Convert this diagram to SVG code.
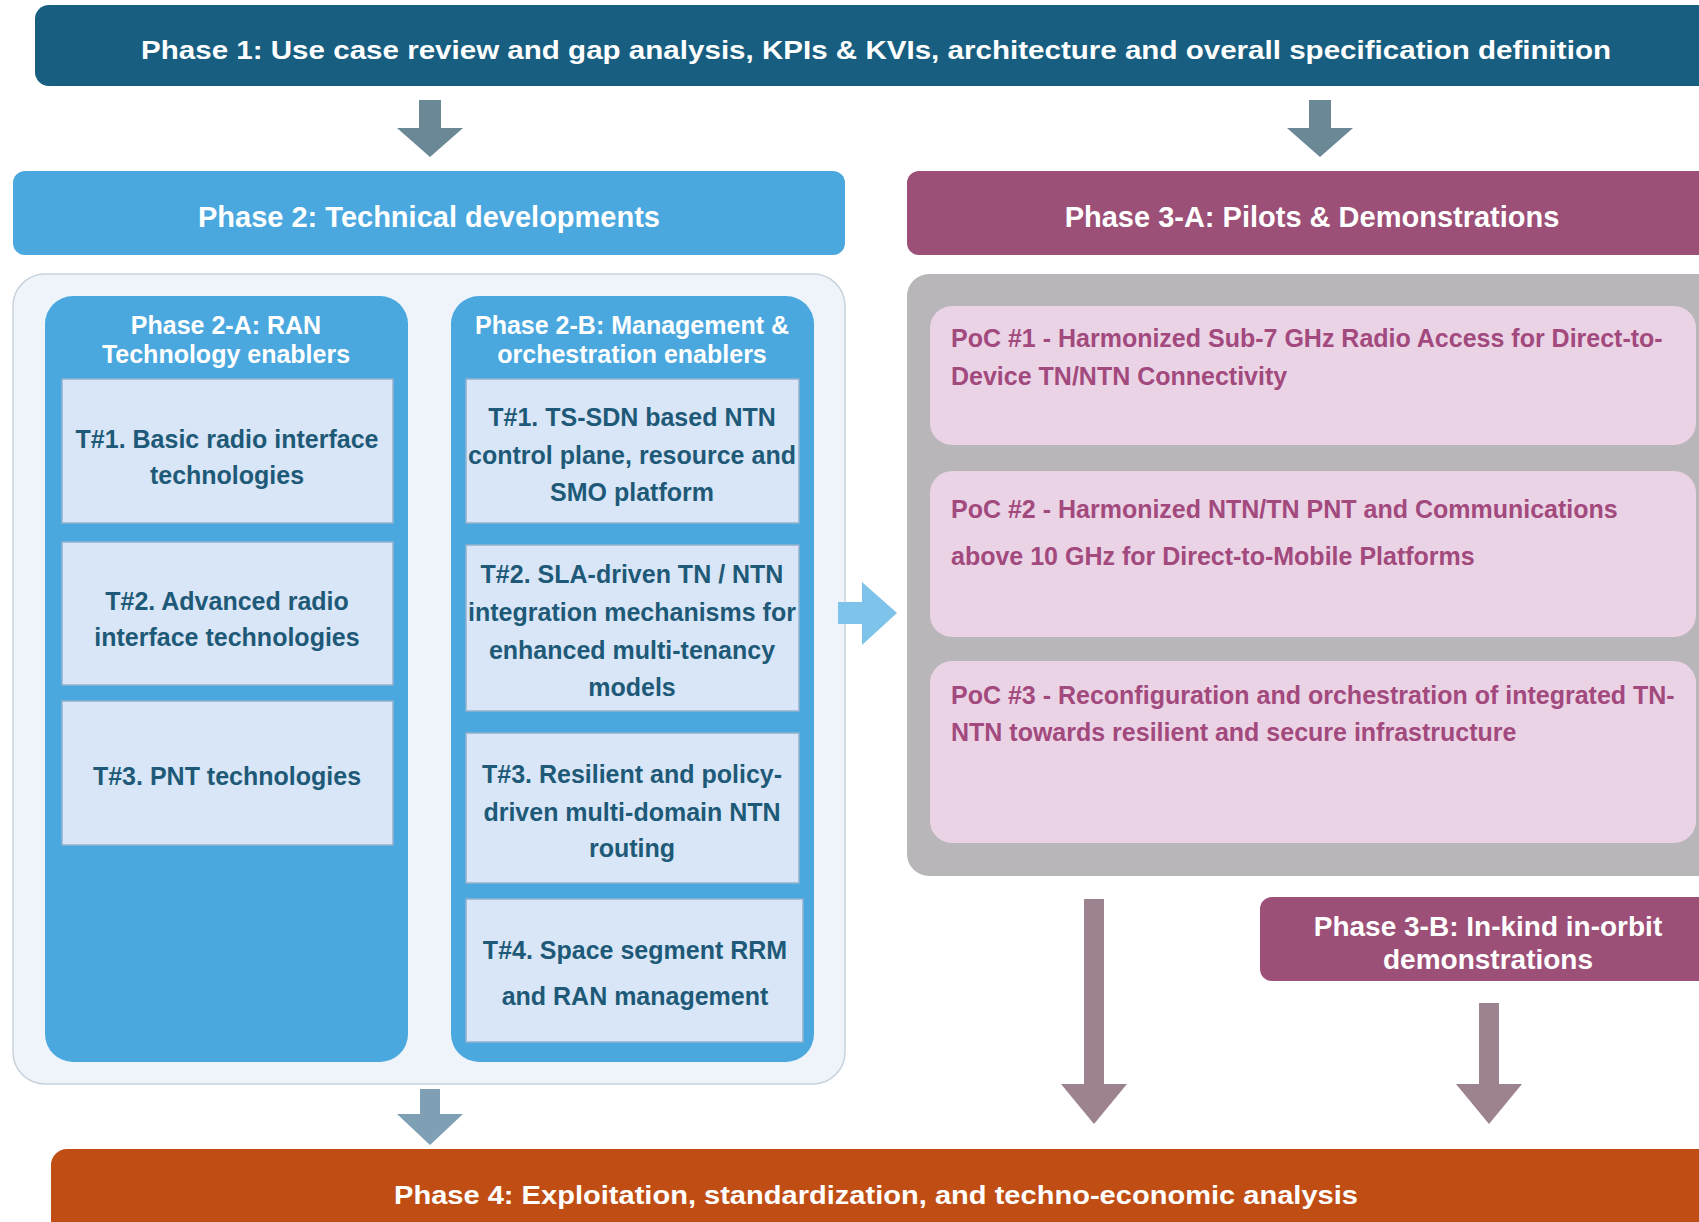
<svg xmlns="http://www.w3.org/2000/svg" width="1699" height="1222" viewBox="0 0 1699 1222">
<defs>
<style>
text{font-family:"Liberation Sans",Arial,sans-serif;font-weight:bold}
.wt{fill:#ffffff;text-anchor:middle}
.tt{fill:#1e5a78;font-size:25px;text-anchor:middle}
.pt{fill:#a2497d;font-size:25px}
.tb{fill:#d9e6f7;stroke:#93b1d1;stroke-width:1.5}
.poc{fill:#ebd3e6}
</style>
</defs>
<rect width="1699" height="1222" fill="#ffffff"/>
<g id="phase1">
<rect x="35" y="5" width="1690" height="81" rx="14" fill="#175e80"/>
<text class="wt" x="876" y="59" font-size="26" textLength="1470" lengthAdjust="spacingAndGlyphs">Phase 1: Use case review and gap analysis, KPIs &amp; KVIs, architecture and overall specification definition</text>
</g>
<g id="phase2">
<rect x="13" y="171" width="832" height="84" rx="12" fill="#4aa8df"/>
<text class="wt" x="429" y="227" font-size="29">Phase 2: Technical developments</text>
</g>
<g id="phase3a">
<rect x="907" y="171" width="820" height="84" rx="12" fill="#9c5077"/>
<text class="wt" x="1312" y="227" font-size="29">Phase 3-A: Pilots &amp; Demonstrations</text>
</g>
<g id="phase2-container">
<rect x="13" y="274" width="832" height="810" rx="32" fill="#eef4fa" stroke="#c9d3dd" stroke-width="1.5"/>
</g>
<g id="phase2a">
<rect x="45" y="296" width="363" height="766" rx="28" fill="#4aa8df"/>
<text class="wt" font-size="25"><tspan x="226" y="334">Phase 2-A: RAN</tspan><tspan x="226" y="363">Technology enablers</tspan></text>
</g>
<g id="a-t1">
<rect class="tb" x="62" y="379" width="331" height="144"/>
<text class="tt"><tspan x="227" y="448">T#1. Basic radio interface</tspan><tspan x="227" y="484">technologies</tspan></text>
</g>
<g id="a-t2">
<rect class="tb" x="62" y="542" width="331" height="143"/>
<text class="tt"><tspan x="227" y="610">T#2. Advanced radio</tspan><tspan x="227" y="646">interface technologies</tspan></text>
</g>
<g id="a-t3">
<rect class="tb" x="62" y="701" width="331" height="144"/>
<text class="tt"><tspan x="227" y="785">T#3. PNT technologies</tspan></text>
</g>
<g id="phase2b">
<rect x="451" y="296" width="363" height="766" rx="28" fill="#4aa8df"/>
<text class="wt" font-size="25"><tspan x="632" y="334">Phase 2-B: Management &amp;</tspan><tspan x="632" y="363">orchestration enablers</tspan></text>
</g>
<g id="b-t1">
<rect class="tb" x="466" y="379" width="333" height="144"/>
<text class="tt"><tspan x="632" y="426">T#1. TS-SDN based NTN</tspan><tspan x="632" y="464">control plane, resource and</tspan><tspan x="632" y="501">SMO platform</tspan></text>
</g>
<g id="b-t2">
<rect class="tb" x="466" y="545" width="333" height="166"/>
<text class="tt"><tspan x="632" y="583">T#2. SLA-driven TN / NTN</tspan><tspan x="632" y="621">integration mechanisms for</tspan><tspan x="632" y="659">enhanced multi-tenancy</tspan><tspan x="632" y="696">models</tspan></text>
</g>
<g id="b-t3">
<rect class="tb" x="466" y="733" width="333" height="150"/>
<text class="tt"><tspan x="632" y="783">T#3. Resilient and policy-</tspan><tspan x="632" y="821">driven multi-domain NTN</tspan><tspan x="632" y="857">routing</tspan></text>
</g>
<g id="b-t4">
<rect class="tb" x="466" y="899" width="337" height="143"/>
<text class="tt"><tspan x="635" y="959">T#4. Space segment RRM</tspan><tspan x="635" y="1005">and RAN management</tspan></text>
</g>
<g id="phase3a-container">
<rect x="907" y="274" width="820" height="602" rx="22" fill="#b8b6b9"/>
</g>
<g id="poc1">
<rect class="poc" x="930" y="306" width="766" height="139" rx="22"/>
<text class="pt"><tspan x="951" y="347">PoC #1 - Harmonized Sub-7 GHz Radio Access for Direct-to-</tspan><tspan x="951" y="385">Device TN/NTN Connectivity</tspan></text>
</g>
<g id="poc2">
<rect class="poc" x="930" y="471" width="766" height="166" rx="22"/>
<text class="pt"><tspan x="951" y="518">PoC #2 - Harmonized NTN/TN PNT and Communications</tspan><tspan x="951" y="565">above 10 GHz for Direct-to-Mobile Platforms</tspan></text>
</g>
<g id="poc3">
<rect class="poc" x="930" y="661" width="766" height="182" rx="22"/>
<text class="pt"><tspan x="951" y="704">PoC #3 - Reconfiguration and orchestration of integrated TN-</tspan><tspan x="951" y="741">NTN towards resilient and secure infrastructure</tspan></text>
</g>
<g id="phase3b">
<rect x="1260" y="897" width="460" height="84" rx="12" fill="#9c5077"/>
<text class="wt" font-size="28"><tspan x="1488" y="936">Phase 3-B: In-kind in-orbit</tspan><tspan x="1488" y="969">demonstrations</tspan></text>
</g>
<g id="phase4">
<rect x="51" y="1149" width="1680" height="100" rx="16" fill="#c04e14"/>
<text class="wt" x="876" y="1204" font-size="26" textLength="964" lengthAdjust="spacingAndGlyphs">Phase 4: Exploitation, standardization, and techno-economic analysis</text>
</g>
<g id="connectors">
<polygon points="419,100 441,100 441,128 463,128 430,157 397,128 419,128" fill="#6b8896"/>
<polygon points="1309,100 1331,100 1331,128 1353,128 1320,157 1287,128 1309,128" fill="#6b8896"/>
<polygon points="838,602 862,602 862,582 897,613 862,645 862,624 838,624" fill="#7dc3ea"/>
<polygon points="1084,899 1104,899 1104,1084 1127,1084 1094,1124 1061,1084 1084,1084" fill="#9d8290"/>
<polygon points="1479,1003 1499,1003 1499,1084 1522,1084 1489,1124 1456,1084 1479,1084" fill="#9d8290"/>
<polygon points="420,1089 440,1089 440,1114 463,1114 430,1145 397,1114 420,1114" fill="#7e9fb4"/>
</g>
</svg>
